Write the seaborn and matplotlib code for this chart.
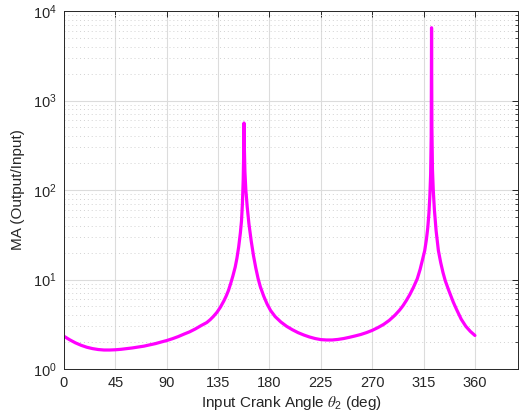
import matplotlib
matplotlib.use("Agg")
import matplotlib.pyplot as plt
import seaborn as sns
import pandas as pd
import numpy as np
from matplotlib.ticker import LogLocator, NullFormatter, FixedLocator

theta_deg = [0, 5, 10, 15, 20, 25, 30, 35, 40, 45, 50, 55, 60, 65, 70, 75, 80, 85, 90,
             95, 100, 105, 110, 115, 120, 125, 128, 131, 134, 137, 140, 142, 144, 146,
             148, 150, 151.5, 153, 154.5, 155.5, 156.3, 157, 157.4, 157.7,
             158.0, 158.5, 159.3, 160.5, 162, 164, 166, 168, 170, 172, 175, 178, 181,
             185, 190, 195, 200, 205, 210, 215, 220, 225, 230, 235, 240, 245, 250, 255,
             260, 265, 270, 275, 280, 285, 290, 294, 297, 300, 303, 306, 309.5, 312,
             314, 316, 317.5, 318.7, 319.7, 320.5, 321.2, 321.7, 322.0,
             322.3, 322.8, 323.5, 324.5, 326, 328, 330, 332, 334, 337, 341, 344, 348,
             352, 356, 360]
ma_values = [2.32, 2.12, 1.96, 1.84, 1.75, 1.69, 1.65, 1.63, 1.63, 1.64, 1.66, 1.69, 1.72,
             1.76, 1.80, 1.86, 1.92, 2.00, 2.08, 2.18, 2.30, 2.45, 2.60, 2.80, 3.05, 3.30,
             3.55, 3.88, 4.30, 4.90, 5.75, 6.5, 7.5, 9.0, 11.0, 13.8, 17.3, 23, 33, 45, 70,
             130, 250, 560,
             300, 160, 100, 65, 42, 27, 18.5, 13.5, 10.3, 8.3, 6.5, 5.3, 4.5, 3.85, 3.35,
             3.0, 2.75, 2.55, 2.40, 2.28, 2.19, 2.13, 2.11, 2.11, 2.14, 2.19, 2.26, 2.34,
             2.43, 2.55, 2.70, 2.90, 3.15, 3.5, 4.0, 4.55, 5.1, 5.85, 6.8, 8.1, 10.2, 13,
             16.5, 21, 28, 38, 55, 85, 150, 400, 6500,
             500, 170, 100, 60, 35, 21, 15.5, 12, 9.7, 7.6, 5.6, 4.6, 3.6, 3.0, 2.63, 2.37]
x_ticks = [0, 45, 90, 135, 180, 225, 270, 315, 360]

sns.set_theme(style="white")
plt.rcParams['font.family'] = ['Liberation Sans', 'DejaVu Sans']
plt.rcParams['mathtext.fontset'] = 'stix'
plt.rcParams['mathtext.default'] = 'regular'

df = pd.DataFrame({"theta": theta_deg, "ma": ma_values})

fig = plt.figure(figsize=(5.19, 4.17), dpi=100)
W, H = 519, 417
ax = fig.add_axes([64 / W, 48 / H, (518.3 - 64) / W, (369 - 11) / H])

sns.lineplot(data=df, x="theta", y="ma", ax=ax, color="#FF00FF", linewidth=2.3,
             sort=False, estimator=None)

ax.set_yscale("log")
ax.set_ylim(1, 1e4)
ax.set_xlim(0, 398)
ax.xaxis.set_major_locator(FixedLocator(x_ticks))
ax.set_xticklabels([str(t) for t in x_ticks])
ax.yaxis.set_major_locator(LogLocator(base=10, numticks=10))
ax.yaxis.set_minor_locator(LogLocator(base=10, subs=np.arange(2, 10), numticks=20))
ax.yaxis.set_minor_formatter(NullFormatter())

dark = "#262626"
for s in ax.spines.values():
    s.set_visible(True)
    s.set_color(dark)
    s.set_linewidth(0.7)

ax.tick_params(axis="both", which="both", direction="in", top=True, right=True,
               colors=dark, labelcolor=dark, labelsize=10.5)
ax.tick_params(axis="both", which="major", length=4, width=0.7, pad=5)
ax.tick_params(axis="y", which="minor", length=2.2, width=0.6)

ax.grid(True, which="major", axis="both", color="#dcdcdc", linewidth=0.8, linestyle="-")
ax.yaxis.grid(True, which="minor", color="#d2d2d2", linewidth=0.7, linestyle=(0, (1, 3)))
ax.set_axisbelow(True)

ax.set_xlabel(r"Input Crank Angle $\mathit{\theta}_{2}$ (deg)", fontsize=11, color=dark,
              labelpad=3)
ax.set_ylabel("MA (Output/Input)", fontsize=11, color=dark, labelpad=6)

fig.savefig("out.png", dpi=100)
